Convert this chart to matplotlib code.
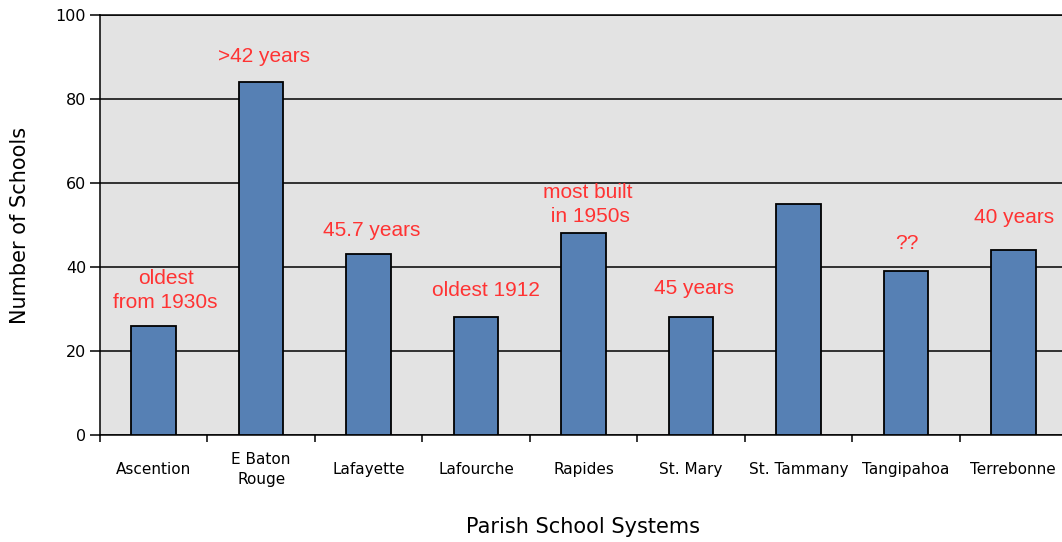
import matplotlib
matplotlib.use("Agg")
import matplotlib.pyplot as plt
import numpy as np

categories = ["Ascention", "E Baton\nRouge", "Lafayette", "Lafourche", "Rapides",
              "St. Mary", "St. Tammany", "Tangipahoa", "Terrebonne"]
values = [26, 84, 43, 28, 48, 28, 55, 39, 44]

# annotations: (x position in category units, y value, text)
note_texts = ["oldest\nfrom 1930s", ">42 years", "45.7 years", "oldest 1912",
              "most built\n in 1950s", "45 years", "??", "40 years"]
note_x = [0.11, 1.03, 2.03, 3.09, 4.04, 5.03, 7.01, 8.01]
note_y = [34.4, 90.0, 48.6, 34.3, 54.9, 35.0, 45.7, 51.7]

fig = plt.figure(figsize=(10.62, 5.42), dpi=100)
ax = fig.add_axes([100/1062, 107/542, 967/1062, 420/542])
ax.set_facecolor("#e3e3e3")

x = np.arange(len(categories))
ax.set_axisbelow(True)
ax.yaxis.grid(True, color="black", linewidth=1.1)
ax.bar(x, values, width=0.415, color="#5680b4", edgecolor="black", linewidth=1.3, zorder=3)

ax.set_xlim(-0.5, len(categories) - 0.5)
ax.set_ylim(0, 100)
ax.set_yticks([0, 20, 40, 60, 80, 100])
ax.tick_params(axis="y", direction="out", length=7, width=1.1, labelsize=11.5, pad=3)

ax.set_xticks(x)
ax.set_xticklabels(categories, fontsize=11, linespacing=1.4)
for lab in ax.get_xticklabels():
    lab.set_va("center")
ax.tick_params(axis="x", which="major", length=0, pad=25)
ax.set_xticks(np.arange(len(categories) + 1) - 0.5, minor=True)
ax.tick_params(axis="x", which="minor", direction="out", length=5, width=1.1)

ax.spines["right"].set_visible(False)
for s in ["left", "top", "bottom"]:
    ax.spines[s].set_linewidth(1.1)
    ax.spines[s].set_color("black")

for t, xx, yy in zip(note_texts, note_x, note_y):
    ax.text(xx, yy, t, ha="center", va="center", color="#ff3333",
            fontsize=15, family="Liberation Sans", linespacing=1.3, zorder=4)

ax.set_ylabel("Number of Schools", fontsize=15, va="center")
ax.set_xlabel("Parish School Systems", fontsize=15, va="center")
ax.yaxis.set_label_coords(-80/967, 0.5)
ax.xaxis.set_label_coords((583-100)/967, -(527-435)/420)

fig.savefig("out.png", dpi=100)
